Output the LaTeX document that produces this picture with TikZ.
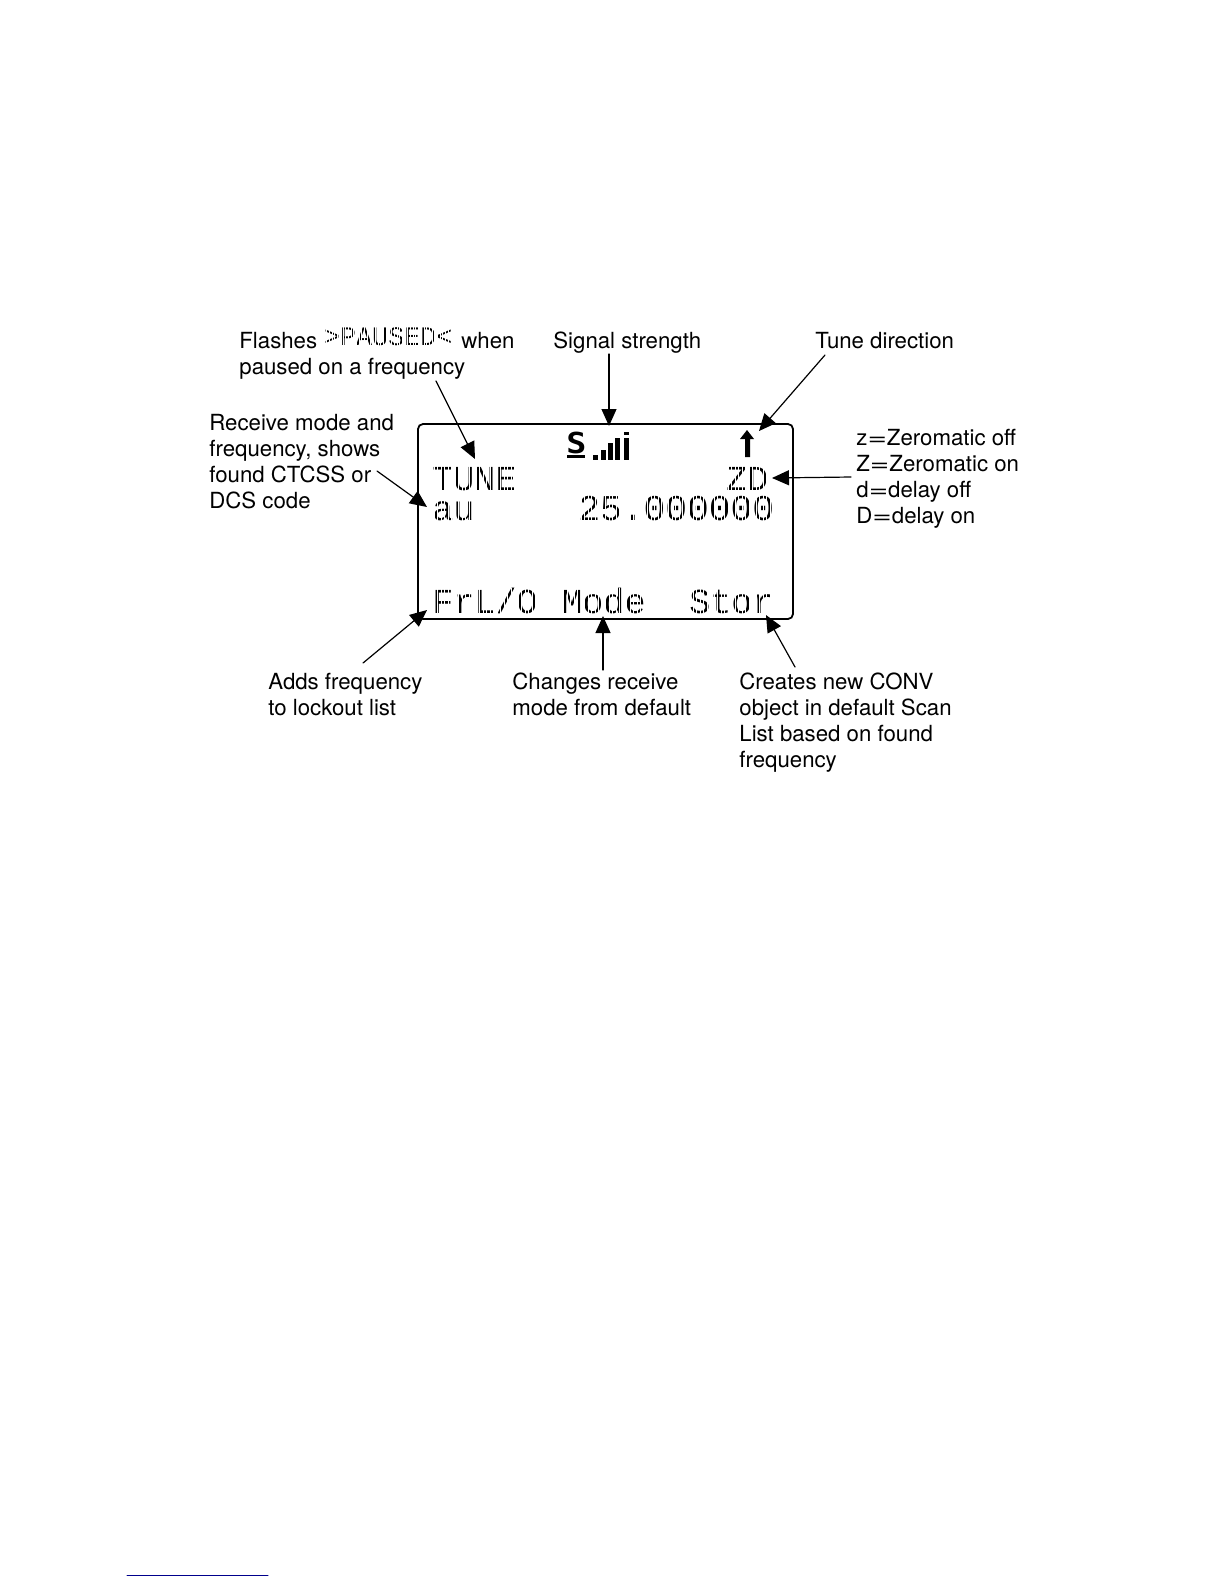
\documentclass[tikz,border=0pt]{standalone}
\usepackage{fontspec}
\setmainfont{TeX Gyre Heros}
\newfontfamily\lcdfont{Liberation Mono}
\newfontfamily\iconfont{DejaVu Sans Mono}
\usetikzlibrary{arrows.meta}
\newcommand{\eqsign}{\scalebox{1.5}[1]{=}}
\tikzset{
  lbl/.style={anchor=north west,inner sep=0pt,align=left,font=\fontsize{11.15}{13.05}\selectfont},
  lcd/.style={anchor=base west,inner sep=0pt,text=black,font=\fontsize{17.6}{18}\lcdfont},
  lead/.style={line width=0.6pt,-{Stealth[length=8.5bp,width=7.5bp,inset=0pt]}},
  dotgrid/.style={white,line width=0.42bp,step=3.5}
}
\begin{document}
\begin{tikzpicture}[x=0.5bp,y=-0.5bp,line cap=round]
\useasboundingbox (0,0) rectangle (1224,1584);
% display
\draw[line width=0.9pt,rounded corners=2.5bp] (418,424) rectangle (793,619);
\node[lcd] (lcdTune) at (432,490) {TUNE};
\node[lcd] (lcdZD) at (726,490) {ZD};
\node[lcd] (lcdMode) at (432,520) {au};
\node[lcd,font=\fontsize{18.2}{18}\lcdfont] (lcdFreq) at (578,520) {25.000000};
\node[lcd] (lcdKeyL) at (432,613) {FrL/O};
\node[lcd] (lcdKeyM) at (561,613) {Mode};
\node[lcd] (lcdKeyR) at (689,613) {Stor};
\node[lcd,font=\fontsize{14.5}{16}\iconfont\bfseries] (lcdS) at (566,453) {\scalebox{1.15}[1]{S}};
\fill (567,455) rectangle (585,458);
\fill (593,455) rectangle (598,460);
\fill (601,450) rectangle (606,460);
\fill (608,443) rectangle (613,460);
\fill (615,438) rectangle (620,460);
\fill (624,438) rectangle (629,460);
\fill (624,432) rectangle (629,435);
% tune arrow
\fill (747,430) -- (754,439) -- (750,439) -- (750,457) -- (745,457) -- (745,439) -- (740,439) -- cycle;
% labels
\node[lbl] (lblPaused) at (239,332) {Flashes\hspace{3.5bp}\smash{\raisebox{1.5bp}{\fontsize{13.4}{13}\lcdfont >PAUSED<}}\hspace{4.5bp}when\\paused on a frequency};
\node[lbl] (lblSignal) at (553,331) {Signal strength};
\node[lbl] (lblTune) at (815,332) {Tune direction};
\node[lbl] (lblReceive) at (209,414) {Receive mode and\\frequency, shows\\found CTCSS or\\DCS code};
\node[lbl] (lblZero) at (856,429) {z\eqsign Zeromatic off\\Z\eqsign Zeromatic on\\d\eqsign delay off\\D\eqsign delay on};
\node[lbl] (lblAdds) at (268,673) {Adds frequency\\to lockout list};
\node[lbl] (lblChanges) at (512,672) {Changes receive\\mode from default};
\node[lbl] (lblCreates) at (739,672) {Creates new CONV\\object in default Scan\\List based on found\\frequency};
% dot matrix
\draw[dotgrid] (428,462) grid (776,524);
\draw[dotgrid] (428,588) grid (776,616);
\draw[dotgrid,step=2.7,line width=0.34bp] (322,324) grid (453,346);
% leader ends
\coordinate (fromPaused) at (436,381);
\coordinate (toPaused) at (475,459);
\coordinate (fromSignal) at (609,354);
\coordinate (toSignal) at (609,426);
\coordinate (fromTune) at (825,355);
\coordinate (toTune) at (759,431);
\coordinate (fromReceive) at (377,471);
\coordinate (toReceive) at (427,507);
\coordinate (fromZero) at (851,477);
\coordinate (toZero) at (772,478);
\coordinate (fromAdds) at (363,663);
\coordinate (toAdds) at (427,610);
\coordinate (fromChanges) at (603,670);
\coordinate (toChanges) at (603,616);
\coordinate (fromCreates) at (795,667);
\coordinate (toCreates) at (766,615);
\draw[lead] (fromPaused) -- (toPaused);
\draw[lead] (fromSignal) -- (toSignal);
\draw[lead] (fromTune) -- (toTune);
\draw[lead] (fromReceive) -- (toReceive);
\draw[lead] (fromZero) -- (toZero);
\draw[lead] (fromAdds) -- (toAdds);
\draw[lead] (fromChanges) -- (toChanges);
\draw[lead] (fromCreates) -- (toCreates);
% footnote rule
\draw[blue!55!black,line width=0.5pt] (127,1575) -- (268,1575);
\end{tikzpicture}
\end{document}
